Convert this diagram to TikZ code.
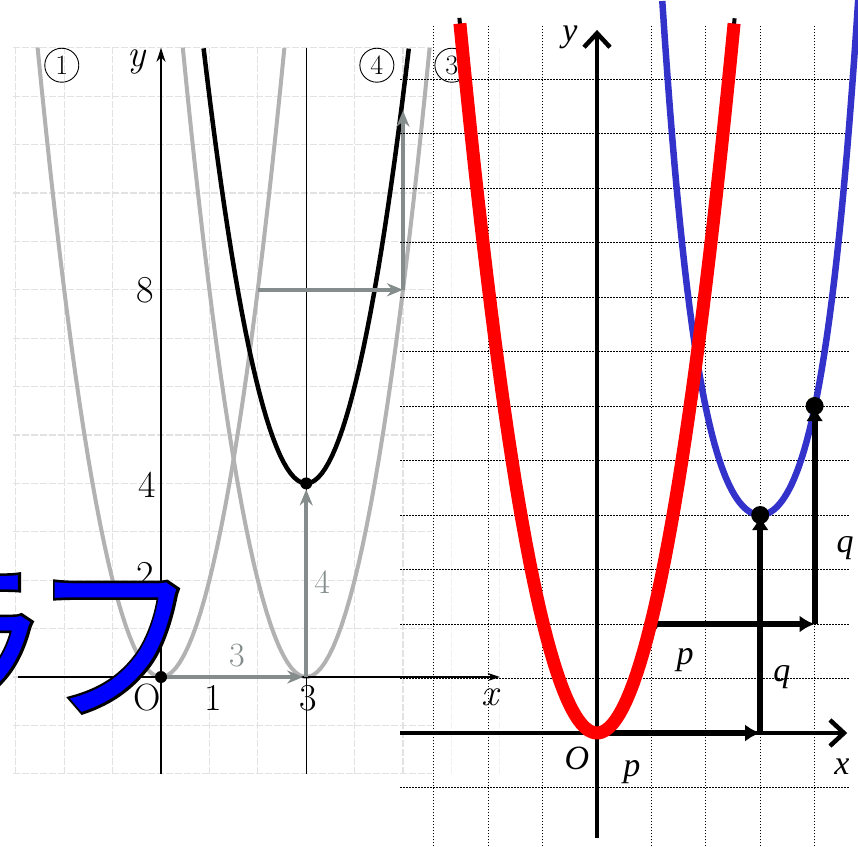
\documentclass[tikz,border=0pt]{standalone}
\usepackage{fontspec}
\usepackage{xcolor}
\usetikzlibrary{arrows.meta}
\newfontfamily\seriffont{Liberation Serif}
\newfontfamily\cjkfont{Noto Sans CJK JP}
\definecolor{scangray}{RGB}{178,178,178}
\definecolor{arrowgray}{RGB}{132,140,140}
\definecolor{faintgray}{RGB}{226,226,226}
\definecolor{curveblue}{RGB}{51,51,204}
\tikzset{
  faintline/.style={faintgray, line width=1.3pt, dash pattern=on 7pt off 2pt},
  scancurve/.style={scangray, line width=4pt},
  scanarrow/.style={arrowgray, line width=3.5pt, -{Stealth[length=16pt,width=13pt]}},
  thinaxis/.style={black, line width=1.4pt},
  scanlabel/.style={inner sep=0pt, font=\fontsize{38}{38}\selectfont},
  circlelabel/.style={circle, draw, line width=0.9pt, inner sep=0pt, minimum size=34pt, font=\fontsize{28}{28}\selectfont},
  gridline/.style={black, line width=1pt, dash pattern=on 1.5pt off 1.5pt},
  axisline/.style={black, line width=4.5pt, -{Straight Barb[length=14pt,width=26pt]}},
  shiftarrow/.style={black, line width=6pt, -{Latex[length=15pt,width=17pt]}},
  varlabel/.style={inner sep=0pt, font=\seriffont\itshape\fontsize{34}{34}\selectfont},
  titletext/.style={anchor=base east, inner sep=0pt, xscale=1.0, yscale=1.05, transform shape,
    font=\cjkfont\fontsize{170}{170}\selectfont},
  declare function={blueq(\t)=4+1.55*(\t-3)*(\t-3)+0.42*(\t-3)*(\t-3)*(\t-3)*(\t-3);}
}
% stroked text: render mode 2 with a given line width
\newcommand{\strokedtext}[2]{\special{pdf:literal direct 2 Tr #1 w}#2\special{pdf:literal direct 0 Tr}}
\newcommand{\titleword}{グラ\kern-21pt フ}
\begin{document}
\begin{tikzpicture}[x=1pt, y=-1pt]
\useasboundingbox (0,0) rectangle (858,846);
\fill[white] (0,0) rectangle (858,846);

% Scanned textbook graph
\begin{scope}[shift={(161,677)}, x=48.4pt, y=48.4pt]
  % faint grid
  \foreach \i in {-3,...,5} \draw[faintline] (\i,-2) -- (\i,13);
  \foreach \i in {6,7} \draw[faintline, black!5] (\i,-2) -- (\i,13);
  \foreach \j in {-2,...,13} \draw[faintline] (-3.05,\j) -- (5.6,\j);

  % parabolas 1 and 3
  \draw[scancurve] plot[domain=-2.55:2.55, samples=60] (\x,{2*\x*\x});
  \draw[scancurve] plot[domain=0.45:5.55, samples=60] (\x,{2*(\x-3)*(\x-3)});

  % axes
  \draw[thinaxis, -{Stealth[length=12pt,width=8pt]}] (-2.95,0) -- (7,0);
  \draw[thinaxis, -{Stealth[length=14pt,width=9pt]}] (0,-2) -- (0,13);
  \draw[thinaxis] (3,-2) -- (3,13);

  % parabola 4
  \draw[black, line width=4.5pt] plot[domain=0.88:5.12, samples=60] (\x,{2*(\x-3)*(\x-3)+4});

  % translation arrows
  \coordinate (A0) at (0,0);
  \coordinate (A3) at (3,0);
  \coordinate (V4) at (3,4);
  \coordinate (P8) at (2,8);
  \coordinate (Q8) at (5,8);
  \coordinate (Q12) at (5,11.7);
  \draw[scanarrow, shorten >=3pt] (A0) -- (A3);
  \draw[scanarrow, shorten >=6pt] (A3) -- (V4);
  \draw[scanarrow] (P8) -- (Q8);
  \draw[scanarrow] (Q8) -- (Q12);
  \fill (A0) circle (6pt);
  \fill (V4) circle (6pt);

  % labels
  \node[scanlabel] (lO) at (-0.29,-0.43) {O};
  \node[scanlabel] (l1) at (1.07,-0.43) {1};
  \node[scanlabel] (l3) at (3.04,-0.43) {3};
  \node[scanlabel] (l2) at (-0.33,2.1) {2};
  \node[scanlabel] (l4) at (-0.29,3.97) {4};
  \node[scanlabel] (l8) at (-0.33,8.0) {8};
  \node[scanlabel, text=arrowgray, font=\fontsize{34}{34}\selectfont] (s3) at (1.57,0.45) {3};
  \node[scanlabel, text=arrowgray, font=\fontsize{34}{34}\selectfont] (s4) at (3.33,1.96) {4};
  \node[scanlabel, font=\itshape\fontsize{38}{38}\selectfont] (lx) at (6.8,-0.42) {x};
  \node[scanlabel, font=\itshape\fontsize{38}{38}\selectfont] (ly) at (-0.5,12.7) {y};
  \node[circlelabel] (c1) at (-2.05,12.64) {1};
  \node[circlelabel] (c4) at (4.46,12.64) {4};
  \node[circlelabel] (c3) at (6.01,12.64) {3};
\end{scope}

% Translated parabola on a dotted grid
\begin{scope}[shift={(597,733)}, x=54.4pt, y=54.5pt]
  % dotted grid
  \foreach \i in {-3,-2,-1,1,2,3,4} \draw[gridline] (\i,-2.08) -- (\i,13.0);
  \foreach \j in {-1,1,2,...,12} \draw[gridline] (-3.62,\j) -- (4.65,\j);

  % axes
  \draw[axisline] (-3.62,0) -- (4.6,0);
  \draw[axisline] (0,-1.93) -- (0,12.9);

  % shifted parabola
  \draw[curveblue, line width=6.5pt] plot[domain=1.2:4.82, samples=80] (\x,{blueq(\x)});

  % shift arrows
  \coordinate (O) at (0,0);
  \coordinate (Pa) at (3,0);
  \coordinate (Va) at (3,4);
  \coordinate (Sb) at (1,2);
  \coordinate (Pb) at (4,2);
  \coordinate (Vb) at (4,6);
  \draw[shiftarrow] (O) -- (Pa);
  \draw[shiftarrow] (Pa) -- (Va);
  \draw[shiftarrow] (Sb) -- (Pb);
  \draw[shiftarrow] (Pb) -- (Vb);
  \fill (O) circle (6pt);
  \fill (Sb) circle (7pt);
  \fill (Va) circle (9pt);
  \fill (Vb) circle (9pt);

  % base parabola
  \draw[black, line width=4pt] plot[domain=-2.53:2.53, samples=80] (\x,{2.05*\x*\x});
  \draw[red, line width=13pt] plot[domain=-2.52:2.52, samples=80] (\x,{2.05*\x*\x});

  % labels
  \node[varlabel] (np) at (0.64,-0.72) {p};
  \node[varlabel] (npb) at (1.62,1.34) {p};
  \node[varlabel] (nq) at (3.40,1.03) {q};
  \node[varlabel] (nqb) at (4.56,3.39) {q};
  \node[varlabel] (nx) at (4.50,-0.62) {x};
  \node[varlabel] (nO) at (-0.37,-0.46) {O};
  \node[varlabel] (ny) at (-0.5,12.77) {y};
\end{scope}

% Title text: black outline layer, blue fill on top
\node[titletext, text=black] (titleline) at (201,708) {\strokedtext{5}{\titleword}};
\node[titletext, text=blue] (title) at (201,708) {\titleword};
\end{tikzpicture}
\end{document}
